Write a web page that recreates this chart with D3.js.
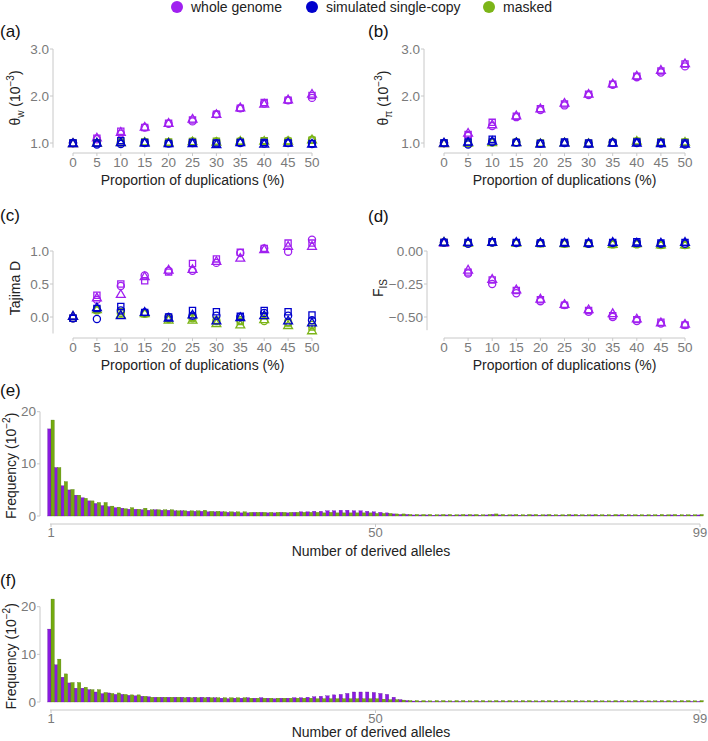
<!DOCTYPE html>
<html>
<head>
<meta charset="utf-8">
<script src="https://cdn.jsdelivr.net/npm/d3@7"></script>
<style>
  body { margin: 0; background: #fff; }
  svg text { font-family: "Liberation Sans", Arial, sans-serif; }
</style>
</head>
<body>
<div id="chart"></div>
<script>
// Proportion of duplications (%)
const props = [0, 5, 10, 15, 20, 25, 30, 35, 40, 45, 50];
const seriesNames = ["whole genome", "simulated single-copy", "masked"];
const shapes = ["circle", "triangle", "square"];

// (a) theta_w (10^-3): rows = circle, triangle, square replicate
const thetaWWhole = [
  [1.00, 1.08, 1.20, 1.33, 1.41, 1.46, 1.61, 1.74, 1.84, 1.91, 1.96],
  [1.00, 1.12, 1.24, 1.35, 1.43, 1.52, 1.62, 1.76, 1.84, 1.93, 2.05],
  [1.00, 1.10, 1.25, 1.33, 1.42, 1.49, 1.61, 1.74, 1.86, 1.91, 2.01]];
const thetaWSingle = [
  [1.00, 0.97, 0.98, 1.00, 0.99, 1.00, 0.99, 1.00, 0.99, 1.00, 0.98],
  [1.00, 1.01, 1.02, 1.01, 1.00, 1.00, 0.98, 1.02, 0.99, 1.01, 0.99],
  [1.00, 1.00, 1.05, 1.01, 0.99, 1.01, 1.00, 1.01, 1.01, 1.00, 0.99]];
const thetaWMasked = [
  [1.00, 1.00, 1.01, 1.02, 1.01, 1.03, 1.03, 1.04, 1.04, 1.05, 1.07],
  [1.00, 1.01, 1.02, 1.03, 1.02, 1.04, 1.03, 1.05, 1.05, 1.05, 1.08],
  [1.00, 1.00, 1.02, 1.02, 1.02, 1.03, 1.04, 1.03, 1.05, 1.04, 1.06]];

// (b) theta_pi (10^-3)
const thetaPiWhole = [
  [1.00, 1.15, 1.36, 1.55, 1.70, 1.80, 2.02, 2.24, 2.40, 2.50, 2.63],
  [1.00, 1.22, 1.40, 1.59, 1.74, 1.86, 2.05, 2.27, 2.44, 2.56, 2.70],
  [1.00, 1.18, 1.44, 1.57, 1.73, 1.83, 2.04, 2.25, 2.42, 2.53, 2.68]];
const thetaPiSingle = [
  [1.00, 0.97, 1.02, 1.01, 0.99, 1.00, 0.98, 1.01, 1.00, 0.99, 0.97],
  [1.01, 1.03, 1.05, 1.02, 0.99, 1.01, 0.99, 1.01, 1.01, 1.00, 0.99],
  [1.00, 1.02, 1.08, 1.01, 0.99, 1.02, 1.00, 1.00, 1.02, 1.01, 1.00]];
const thetaPiMasked = [
  [1.00, 1.00, 1.01, 1.02, 0.99, 1.01, 1.00, 1.01, 1.03, 1.01, 1.01],
  [1.00, 1.01, 1.02, 1.02, 1.00, 1.02, 1.00, 1.02, 1.05, 1.02, 1.03],
  [1.00, 1.00, 1.02, 1.01, 1.00, 1.01, 0.99, 1.01, 1.04, 1.02, 1.02]];

// (c) Tajima's D
const tajimaWhole = [
  [-0.02, 0.26, 0.47, 0.63, 0.70, 0.70, 0.82, 0.97, 1.04, 0.99, 1.17],
  [0.02, 0.30, 0.35, 0.62, 0.72, 0.73, 0.85, 0.90, 1.03, 1.08, 1.08],
  [-0.02, 0.33, 0.50, 0.55, 0.68, 0.81, 0.88, 0.98, 1.04, 1.12, 1.12]];
const tajimaSingle = [
  [-0.02, -0.03, 0.10, 0.07, 0.00, 0.02, 0.02, 0.00, 0.06, 0.02, -0.05],
  [0.02, 0.15, 0.03, 0.08, -0.01, 0.04, -0.05, 0.00, 0.03, -0.05, -0.08],
  [-0.02, 0.13, 0.16, 0.07, 0.00, 0.10, 0.08, 0.01, 0.10, 0.08, 0.03]];
const tajimaMasked = [
  [-0.02, 0.10, 0.06, 0.05, -0.03, -0.02, -0.06, -0.05, -0.06, -0.08, -0.12],
  [0.02, 0.12, 0.04, 0.06, -0.04, -0.04, -0.09, -0.11, -0.03, -0.12, -0.20],
  [-0.02, 0.11, 0.08, 0.05, -0.02, -0.01, -0.05, -0.07, 0.02, -0.09, -0.15]];

// (d) F_IS
const fisWhole = [
  [0.065, -0.17, -0.25, -0.32, -0.38, -0.41, -0.46, -0.50, -0.53, -0.55, -0.56],
  [0.065, -0.14, -0.21, -0.29, -0.36, -0.40, -0.44, -0.47, -0.51, -0.54, -0.55],
  [0.065, -0.16, -0.22, -0.30, -0.37, -0.41, -0.45, -0.49, -0.52, -0.54, -0.56]];
const fisSingle = [
  [0.065, 0.055, 0.065, 0.06, 0.06, 0.06, 0.055, 0.06, 0.06, 0.055, 0.055],
  [0.07, 0.07, 0.07, 0.07, 0.065, 0.065, 0.065, 0.07, 0.065, 0.065, 0.07],
  [0.065, 0.065, 0.07, 0.065, 0.06, 0.065, 0.06, 0.065, 0.07, 0.06, 0.065]];
const fisMasked = [
  [0.065, 0.06, 0.065, 0.06, 0.06, 0.055, 0.055, 0.05, 0.05, 0.045, 0.045],
  [0.07, 0.065, 0.07, 0.065, 0.065, 0.06, 0.06, 0.055, 0.06, 0.05, 0.05],
  [0.065, 0.06, 0.065, 0.06, 0.055, 0.055, 0.055, 0.05, 0.055, 0.045, 0.045]];

// (e) site frequency spectrum (10^-2), derived allele count 1..99
const sfsEWhole = [
  16.7, 9.3, 5.8, 5.0, 4.0, 3.5, 2.9, 2.4, 2.0, 1.8,
  1.6, 1.5, 1.3, 1.3, 1.2, 1.1, 1.2, 1.1, 1.1, 1.0,
  1.0, 0.9, 0.9, 0.9, 0.8, 0.8, 0.8, 0.7, 0.7, 0.6,
  0.6, 0.7, 0.7, 0.6, 0.6, 0.7, 0.6, 0.7, 0.8, 0.8,
  0.9, 0.9, 1.0, 1.0, 1.1, 1.1, 1.0, 1.0, 0.9, 0.8,
  0.7, 0.6, 0.4, 0.3, 0.3, 0.2, 0.2, 0.2, 0.15, 0.2,
  0.2, 0.15, 0.2, 0.2, 0.2, 0.15, 0.2, 0.3, 0.2, 0.15,
  0.2, 0.15, 0.15, 0.2, 0.15, 0.2, 0.15, 0.15, 0.15, 0.2,
  0.15, 0.15, 0.2, 0.15, 0.15, 0.15, 0.2, 0.15, 0.15, 0.15,
  0.15, 0.15, 0.15, 0.15, 0.2, 0.15, 0.15, 0.15, 0.2];
const sfsEMasked = [
  18.4, 9.3, 6.6, 5.1, 4.0, 3.4, 2.9, 2.6, 2.6, 1.9,
  1.7, 1.4, 1.6, 1.3, 1.5, 1.2, 1.2, 1.2, 1.2, 1.0,
  1.0, 1.0, 1.0, 1.1, 0.9, 0.9, 0.8, 0.8, 0.8, 0.8,
  0.7, 0.7, 0.7, 0.7, 0.7, 0.7, 0.7, 0.7, 0.7, 0.7,
  0.7, 0.6, 0.7, 0.6, 0.6, 0.6, 0.6, 0.6, 0.6, 0.5,
  0.5, 0.5, 0.4, 0.4, 0.3, 0.3, 0.3, 0.3, 0.25, 0.3,
  0.3, 0.25, 0.3, 0.3, 0.3, 0.25, 0.3, 0.4, 0.3, 0.25,
  0.3, 0.25, 0.3, 0.3, 0.25, 0.3, 0.25, 0.25, 0.3, 0.3,
  0.25, 0.25, 0.3, 0.25, 0.25, 0.3, 0.3, 0.25, 0.25, 0.25,
  0.25, 0.25, 0.3, 0.25, 0.3, 0.25, 0.25, 0.25, 0.3];

// (f) site frequency spectrum (10^-2)
const sfsFWhole = [
  15.3, 7.8, 5.2, 4.0, 2.9, 2.9, 2.6, 2.1, 1.75, 1.9,
  1.6, 1.6, 1.4, 1.3, 1.2, 1.1, 1.0, 1.0, 1.0, 1.0,
  1.0, 1.0, 1.0, 1.0, 1.0, 0.9, 0.8, 0.7, 0.8, 0.8,
  0.9, 0.8, 0.9, 0.8, 0.7, 0.8, 0.8, 0.9, 0.9, 1.0,
  1.1, 1.2, 1.3, 1.5, 1.6, 1.8, 2.1, 2.1, 2.1, 2.0,
  1.8, 1.6, 1.0, 0.5, 0.3, 0.2, 0.15, 0.1, 0.1, 0.1,
  0.1, 0.1, 0.1, 0.1, 0.1, 0.1, 0.1, 0.1, 0.1, 0.1,
  0.1, 0.1, 0.1, 0.1, 0.1, 0.1, 0.1, 0.1, 0.1, 0.1,
  0.1, 0.1, 0.1, 0.1, 0.1, 0.1, 0.1, 0.1, 0.1, 0.1,
  0.1, 0.1, 0.1, 0.1, 0.1, 0.1, 0.1, 0.1, 0.1];
const sfsFMasked = [
  21.6, 9.0, 5.9, 4.1, 4.1, 3.1, 2.6, 2.6, 2.0, 1.8,
  1.9, 1.6, 1.5, 1.5, 1.2, 1.0, 1.0, 1.0, 1.0, 1.0,
  0.9, 0.9, 0.9, 0.9, 0.9, 0.9, 0.9, 0.9, 0.9, 0.9,
  0.8, 0.8, 0.8, 0.8, 0.8, 0.8, 0.8, 0.8, 0.8, 0.8,
  0.7, 0.7, 0.7, 0.7, 0.7, 0.7, 0.7, 0.7, 0.7, 0.7,
  0.6, 0.5, 0.5, 0.4, 0.3, 0.3, 0.3, 0.25, 0.3, 0.3,
  0.25, 0.3, 0.3, 0.25, 0.3, 0.3, 0.25, 0.3, 0.3, 0.3,
  0.25, 0.3, 0.3, 0.25, 0.3, 0.3, 0.3, 0.25, 0.3, 0.3,
  0.25, 0.3, 0.3, 0.25, 0.25, 0.3, 0.3, 0.25, 0.3, 0.3,
  0.25, 0.25, 0.3, 0.3, 0.25, 0.3, 0.3, 0.25, 0.3];

// Colours
const wholeColor = '#a020f0';
const singleColor = '#0000cd';
const maskedColor = '#7cb518';
const barWholeColor = '#8a1be0';
const barMaskedColor = '#74aa10';
const axisColor = '#c8c8c8';
const tickTextColor = '#7a7a7a';

const width = 708, height = 741;

const svg = d3.select("#chart").append("svg")
    .attr("width", width)
    .attr("height", height);

// Legend
const legendItems = [
  { name: seriesNames[0], color: wholeColor, x: 177 },
  { name: seriesNames[1], color: singleColor, x: 312 },
  { name: seriesNames[2], color: maskedColor, x: 489 }];
const legend = svg.append("g");
legendItems.forEach(d => {
  legend.append("circle").attr("cx", d.x).attr("cy", 7).attr("r", 6).attr("fill", d.color);
  legend.append("text").attr("x", d.x + 14).attr("y", 12)
      .style("font-size", "14px").attr("fill", "#222").text(d.name);
});

function panelLabel(x, y, txt) {
  svg.append("text").attr("x", x).attr("y", y)
      .style("font-size", "17px").attr("fill", "#111").text(txt);
}

function yTitle(x, y, build) {
  const t = svg.append("text")
      .attr("transform", `translate(${x},${y}) rotate(-90)`)
      .attr("text-anchor", "middle")
      .style("font-size", "14px").attr("fill", "#222");
  build(t);
}

const symbolTypes = { circle: d3.symbolCircle, triangle: d3.symbolTriangle, square: d3.symbolSquare };
const symbolSizes = { circle: 40, triangle: 34, square: 38 };

// Scatter panel: cfg has x range, y domain/range, axis positions and data
function scatterPanel(cfg) {
  const g = svg.append("g");
  const x = d3.scaleLinear().domain([0, 50]).range(cfg.xRange);
  const y = d3.scaleLinear().domain(cfg.yDomain).range(cfg.yRange);

  // y axis line + ticks
  const yTop = y(d3.max(cfg.yTicks)), yBot = y(cfg.yMin);
  g.append("line").attr("x1", cfg.yAxisX).attr("x2", cfg.yAxisX)
      .attr("y1", yTop).attr("y2", yBot).attr("stroke", axisColor);
  cfg.yTicks.forEach(v => {
    g.append("line").attr("x1", cfg.yAxisX - 3).attr("x2", cfg.yAxisX)
        .attr("y1", y(v)).attr("y2", y(v)).attr("stroke", axisColor);
    g.append("text").attr("x", cfg.yAxisX - 4).attr("y", y(v) + 4.5)
        .attr("text-anchor", "end").style("font-size", "13.5px")
        .attr("fill", tickTextColor).text(cfg.yFormat(v));
  });

  // x axis
  g.append("line").attr("x1", x(0)).attr("x2", x(50))
      .attr("y1", cfg.xAxisY).attr("y2", cfg.xAxisY).attr("stroke", axisColor);
  props.forEach(v => {
    g.append("line").attr("x1", x(v)).attr("x2", x(v))
        .attr("y1", cfg.xAxisY).attr("y2", cfg.xAxisY + 3).attr("stroke", axisColor);
    g.append("text").attr("x", x(v)).attr("y", cfg.xAxisY + 14)
        .attr("text-anchor", "middle").style("font-size", "13.5px")
        .attr("fill", tickTextColor).text(v);
  });
  g.append("text").attr("x", (x(0) + x(50)) / 2).attr("y", cfg.xAxisY + 32)
      .attr("text-anchor", "middle").style("font-size", "14px")
      .attr("fill", "#222").text("Proportion of duplications (%)");

  // points: whole genome, masked, simulated single-copy
  const layers = [
    { data: cfg.whole, color: wholeColor },
    { data: cfg.masked, color: maskedColor },
    { data: cfg.single, color: singleColor }];
  layers.forEach(layer => {
    layer.data.forEach((row, i) => {
      const shape = shapes[i];
      g.append("g").selectAll("path")
        .data(row.map((v, j) => ({ p: props[j], v: v })))
        .join("path")
        .attr("transform", d => `translate(${x(d.p)},${y(d.v) + (shape === "triangle" ? 1 : 0)})`)
        .attr("d", d3.symbol().type(symbolTypes[shape]).size(symbolSizes[shape]))
        .attr("fill", "none")
        .attr("stroke", layer.color)
        .attr("stroke-width", 1.3);
    });
  });
}

const fmt1 = d3.format(".1f");

// (a)
panelLabel(0, 37, "(a)");
scatterPanel({
  xRange: [73, 312], yDomain: [1, 3], yRange: [143, 49], yMin: 0.9,
  yTicks: [1, 2, 3], yFormat: fmt1, yAxisX: 53, xAxisY: 153,
  whole: thetaWWhole, single: thetaWSingle, masked: thetaWMasked });
yTitle(20, 98, t => {
  t.append("tspan").text("θ");
  t.append("tspan").attr("dy", 4).style("font-size", "10px").text("w");
  t.append("tspan").attr("dy", -4).text(" (10");
  t.append("tspan").attr("dy", -6).style("font-size", "10px").text("−3");
  t.append("tspan").attr("dy", 6).text(")");
});

// (b)
panelLabel(368, 37, "(b)");
scatterPanel({
  xRange: [444, 685], yDomain: [1, 3], yRange: [143, 49], yMin: 0.9,
  yTicks: [1, 2, 3], yFormat: fmt1, yAxisX: 424, xAxisY: 153,
  whole: thetaPiWhole, single: thetaPiSingle, masked: thetaPiMasked });
yTitle(388, 98, t => {
  t.append("tspan").text("θ");
  t.append("tspan").attr("dy", 4).style("font-size", "10px").text("π");
  t.append("tspan").attr("dy", -4).text(" (10");
  t.append("tspan").attr("dy", -6).style("font-size", "10px").text("−3");
  t.append("tspan").attr("dy", 6).text(")");
});

// (c)
panelLabel(0, 221, "(c)");
scatterPanel({
  xRange: [73, 312], yDomain: [0, 1], yRange: [317, 251], yMin: -0.25,
  yTicks: [0, 0.5, 1], yFormat: fmt1, yAxisX: 53, xAxisY: 338,
  whole: tajimaWhole, single: tajimaSingle, masked: tajimaMasked });
yTitle(20, 288, t => t.text("Tajima D"));

// (d)
panelLabel(368, 222, "(d)");
scatterPanel({
  xRange: [444, 685], yDomain: [-0.5, 0], yRange: [317, 251], yMin: -0.6,
  yTicks: [-0.5, -0.25, 0], yFormat: d3.format(".2f"), yAxisX: 427, xAxisY: 338,
  whole: fisWhole, single: fisSingle, masked: fisMasked });
yTitle(383, 288, t => {
  t.append("tspan").text("F");
  t.append("tspan").attr("dy", 4).style("font-size", "10px").text("IS");
});

// SFS bar panel
function sfsPanel(cfg) {
  const g = svg.append("g");
  const ks = d3.range(1, 100);
  const x = d3.scaleLinear().domain([1, 99]).range([51, 700]);
  const y = d3.scaleLinear().domain([0, 20]).range(cfg.yRange);
  const bw = (x(2) - x(1)) / 2;

  g.append("line").attr("x1", 40).attr("x2", 40)
      .attr("y1", y(20)).attr("y2", y(0)).attr("stroke", axisColor);
  [0, 10, 20].forEach(v => {
    g.append("line").attr("x1", 37).attr("x2", 40)
        .attr("y1", y(v)).attr("y2", y(v)).attr("stroke", axisColor);
    g.append("text").attr("x", 36).attr("y", y(v) + 4.5)
        .attr("text-anchor", "end").style("font-size", "13.5px")
        .attr("fill", tickTextColor).text(v);
  });

  g.append("line").attr("x1", x(1) - 1).attr("x2", x(99))
      .attr("y1", cfg.xAxisY).attr("y2", cfg.xAxisY).attr("stroke", axisColor);
  [1, 50, 99].forEach(v => {
    g.append("line").attr("x1", x(v)).attr("x2", x(v))
        .attr("y1", cfg.xAxisY).attr("y2", cfg.xAxisY + 3).attr("stroke", axisColor);
    g.append("text").attr("x", x(v)).attr("y", cfg.xAxisY + 12.5)
        .attr("text-anchor", "middle").style("font-size", "13px")
        .attr("fill", tickTextColor).text(v);
  });
  g.append("text").attr("x", 371).attr("y", Math.min(cfg.xAxisY + 32, 737))
      .attr("text-anchor", "middle").style("font-size", "14px")
      .attr("fill", "#222").text("Number of derived alleles");

  g.append("g").selectAll("rect")
    .data(ks.map((k, i) => ({ k: k, v: cfg.whole[i] })))
    .join("rect")
    .attr("x", d => x(d.k) - bw)
    .attr("y", d => y(d.v))
    .attr("width", bw)
    .attr("height", d => y(0) - y(d.v))
    .attr("fill", barWholeColor)
    .attr("stroke", "#5c0d99").attr("stroke-width", 0.3);
  g.append("g").selectAll("rect")
    .data(ks.map((k, i) => ({ k: k, v: cfg.masked[i] })))
    .join("rect")
    .attr("x", d => x(d.k))
    .attr("y", d => y(d.v))
    .attr("width", bw)
    .attr("height", d => y(0) - y(d.v))
    .attr("fill", barMaskedColor)
    .attr("stroke", "#4d7308").attr("stroke-width", 0.3);

  yTitle(16, (y(0) + y(20)) / 2 + 2, t => {
    t.append("tspan").text("Frequency (10");
    t.append("tspan").attr("dy", -6).style("font-size", "10px").text("−2");
    t.append("tspan").attr("dy", 6).text(")");
  });
}

// (e)
panelLabel(0, 396, "(e)");
sfsPanel({ yRange: [516, 411.7], xAxisY: 524, whole: sfsEWhole, masked: sfsEMasked });

// (f)
panelLabel(0, 586, "(f)");
sfsPanel({ yRange: [702, 606.7], xAxisY: 710, whole: sfsFWhole, masked: sfsFMasked });
</script>
</body>
</html>
